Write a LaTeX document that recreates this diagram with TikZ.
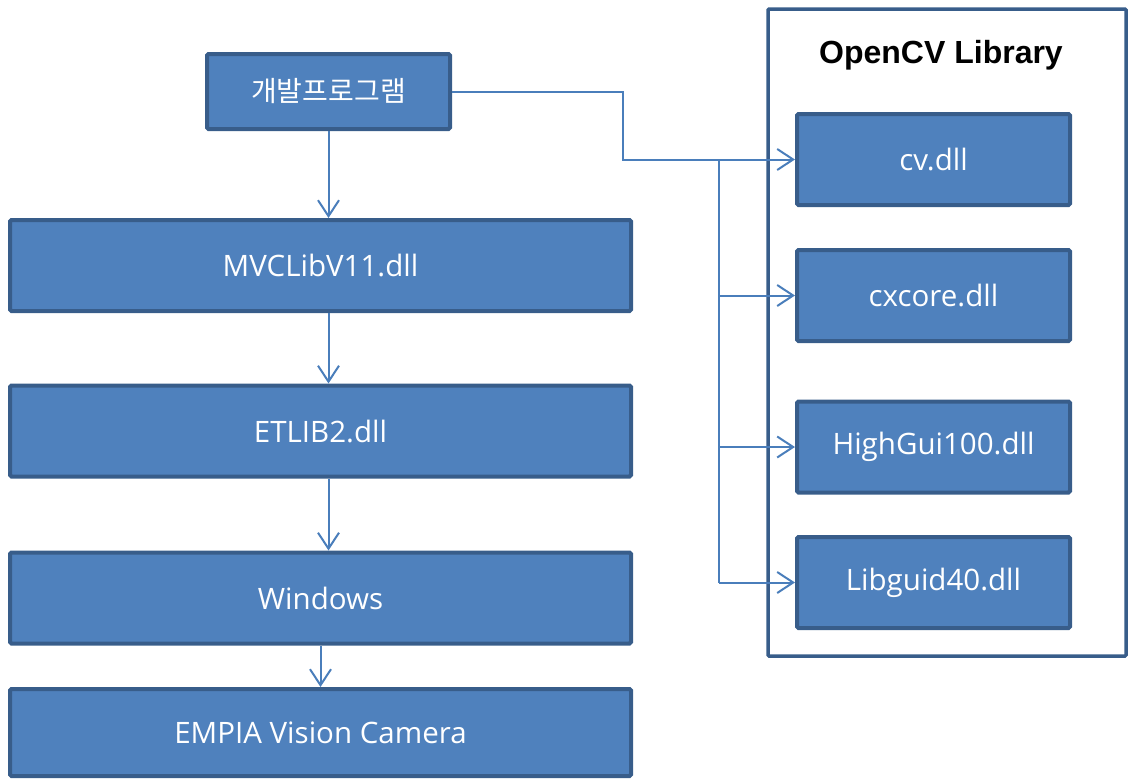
\documentclass[tikz,border=0pt]{standalone}
\usepackage{fontspec}
\setmainfont{Open Sans}
\newfontfamily\krfont{Noto Sans CJK KR}
\newfontfamily\titlefont{Liberation Sans}
\usetikzlibrary{arrows.meta,calc}
\definecolor{boxfill}{HTML}{4F81BD}
\definecolor{boxline}{HTML}{385D8A}
\definecolor{conn}{HTML}{4A7EBB}
\tikzset{
  blk/.style={draw=boxline, fill=boxfill, line width=4pt, rounded corners=1.5pt,
    text=white, inner sep=0pt, font=\fontsize{29.5}{34}\selectfont},
  arr/.style={draw=conn, line width=2pt,
    -{Straight Barb[length=16pt,width=21pt,line width=2pt]}},
  ln/.style={draw=conn, line width=2pt},
}
\begin{document}
\begin{tikzpicture}[x=1pt,y=-1pt]
\useasboundingbox (0,0) rectangle (1130,779);
% OpenCV outer box
\node[draw=boxline, line width=3.5pt, rounded corners=1pt, minimum width=358pt, minimum height=647pt, inner sep=0pt] (lib) at (947,332.5) {};
\node[font=\titlefont\bfseries\fontsize{32}{36}\selectfont] (title) at (941,55) {OpenCV Library};
% left column
\node[blk, minimum width=243pt, minimum height=75pt, font=\krfont\fontsize{28}{32}\selectfont] (dev) at (328.5,91.5) {개발프로그램};
\node[blk, minimum width=621pt, minimum height=91pt] (mvc) at (320.5,265.5) {MVCLibV11.dll};
\node[blk, minimum width=621pt, minimum height=91pt] (etl) at (320.5,431) {ETLIB2.dll};
\node[blk, minimum width=621pt, minimum height=91pt] (win) at (320.5,598) {Windows};
\node[blk, minimum width=621pt, minimum height=87pt] (emp) at (320.5,732.5) {EMPIA Vision Camera};
% right column
\node[blk, minimum width=273pt, minimum height=91pt] (cv) at (933.5,159.5) {cv.dll};
\node[blk, minimum width=273pt, minimum height=91pt] (cx) at (933.5,295.5) {cxcore.dll};
\node[blk, minimum width=273pt, minimum height=91pt] (hg) at (933.5,447) {HighGui100.dll};
\node[blk, minimum width=273pt, minimum height=91pt] (lg) at (933.5,582.5) {Libguid40.dll};
% vertical arrows
\draw[arr] (dev.south) -- (mvc.north -| dev.south);
\draw[arr] (mvc.south -| dev.south) -- (etl.north -| dev.south);
\draw[arr] (etl.south -| dev.south) -- (win.north -| dev.south);
\draw[arr] (win.south) -- (emp.north);
% right connectors
\coordinate (bend) at (623,91.5);
\coordinate (trunk) at (719,159.5);
\draw[arr] (dev.east) -- (bend) |- (cv.west);
\draw[ln] (trunk) -- (trunk |- lg.west);
\draw[arr] (trunk |- cx.west) -- (cx.west);
\draw[arr] (trunk |- hg.west) -- (hg.west);
\draw[arr] (trunk |- lg.west) -- (lg.west);
\end{tikzpicture}
\end{document}
